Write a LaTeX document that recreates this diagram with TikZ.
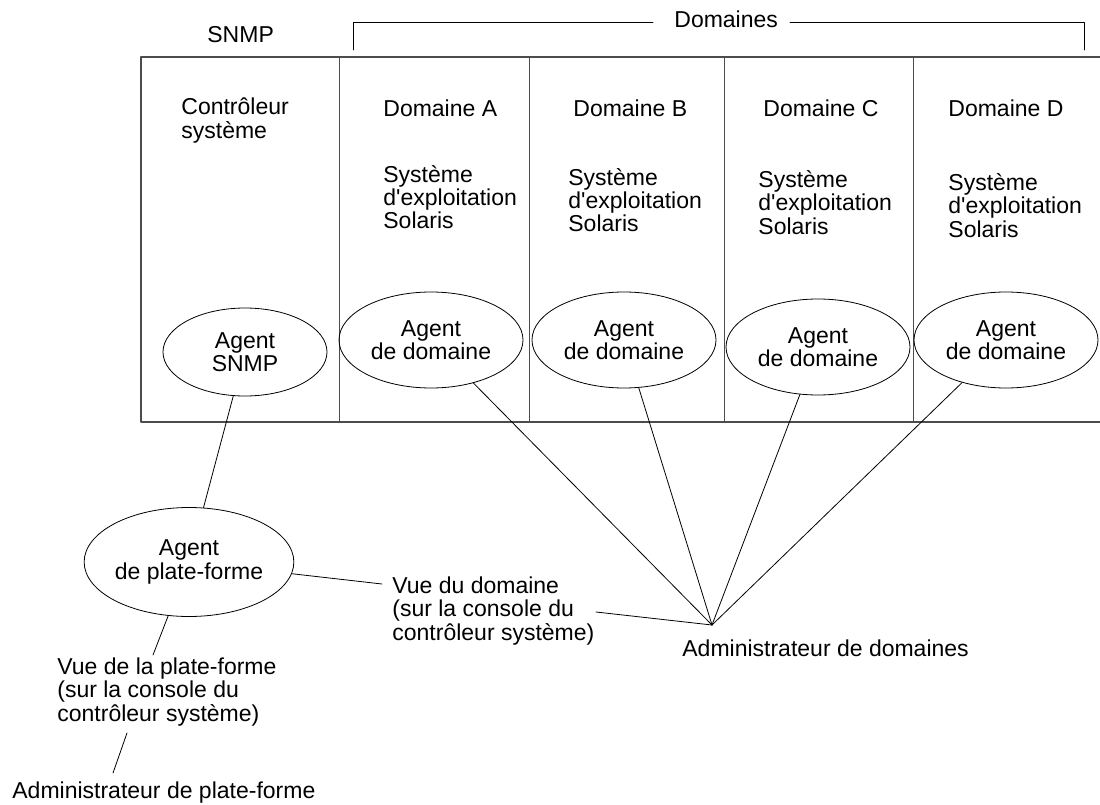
\documentclass[tikz,border=0pt]{standalone}
\usepackage{fontspec}
\setmainfont{Liberation Sans}
\usetikzlibrary{shapes.geometric}
\tikzset{
	agent/.style={draw,ellipse,inner sep=0pt,align=center,minimum width=184pt,minimum height=96pt},
	txt/.style={anchor=base west,align=left,inner sep=0pt},
	frame/.style={draw=black!70,line width=1.2pt},
}
\begin{document}
\begin{tikzpicture}[x=1pt,y=-1pt,line join=round,line cap=round,line width=0.8pt,font=\fontsize{23}{23.5}\selectfont]
	\useasboundingbox (0,0) rectangle (1100,805);
	\path
	(712,625) coordinate (hub)
	(382,584) coordinate (vd1)
	(596,612) coordinate (vd2)
	(153,655) coordinate (vp1)
	(127,733) coordinate (vp2)
	(113,773) coordinate (vp3);
	\draw[frame] (1100,57) -- (141,57) -- (141,422) -- (1100,422);
	\foreach \x in {339,529,724,913} \draw[frame,line width=1pt] (\x,57) -- (\x,422);
	\node[txt] (snmplbl) at (207,43) {SNMP};
	\node[txt] (doms) at (674,28) {Domaines};
	\draw (353,50) |- (653,22);
	\draw (790,22) -| (1084,50);
	\node[txt] (ctrl) at (181,138.5) {Contrôleur\\système};
	\foreach \d/\x/\xs/\ys in {A/383/383/229,B/573/568/232,C/763/758/234,D/948/948/237}{
		\node[txt] (dom\d) at (\x,117) {Domaine \d};
		\node[txt] (os\d) at (\xs,\ys) {Système\\d\textquotesingle exploitation\\Solaris};
	}
	\node[agent,minimum width=164pt,minimum height=88pt] (snmp) at (245,352) {Agent\\SNMP};
	\node[agent] (agA) at (431,340) {Agent\\de domaine};
	\node[agent] (agB) at (624,340) {Agent\\de domaine};
	\node[agent] (agC) at (818,347) {Agent\\de domaine};
	\node[agent] (agD) at (1006,340) {Agent\\de domaine};
	\node[agent,minimum width=206pt,minimum height=109pt] (plat) at (189,562) {Agent\\de plate-forme};
	\node[txt] (vuedom) at (392,640) {Vue du domaine\\(sur la console du\\contrôleur système)};
	\node[txt] (admdom) at (682,656) {Administrateur de domaines};
	\node[txt] (vueplat) at (57,721) {Vue de la plate-forme\\(sur la console du\\contrôleur système)};
	\node[txt] (admplat) at (12,798) {Administrateur de plate-forme};
	\draw (snmp) -- (plat);
	\foreach \n in {agA,agB,agC,agD} \draw (\n) -- (hub);
	\draw (plat) -- (vd1);
	\draw (vd2) -- (hub);
	\draw (plat) -- (vp1);
	\draw (vp2) -- (vp3);
\end{tikzpicture}
\end{document}
